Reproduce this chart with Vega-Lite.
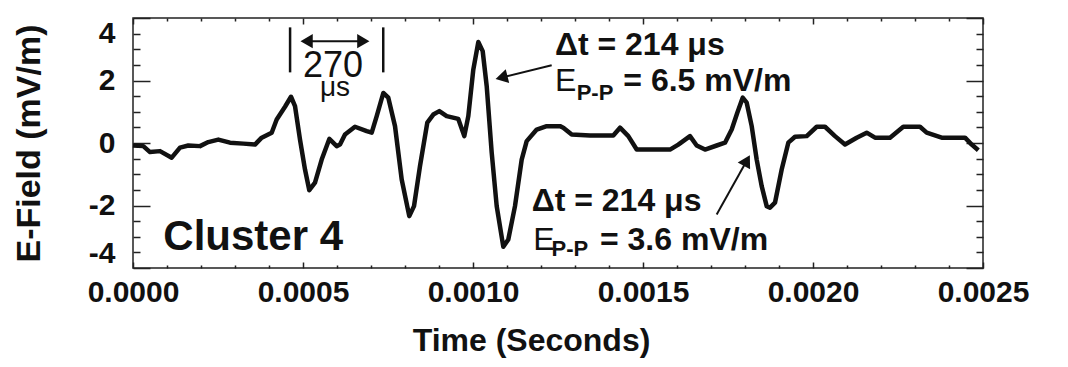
{
  "$schema": "https://vega.github.io/schema/vega-lite/v6.json",
  "width": 850,
  "height": 250,
  "autosize": {"type": "none"},
  "padding": {"left": 133, "top": 18, "right": 85, "bottom": 99},
  "background": "white",
  "config": {
    "view": {"stroke": "#222", "strokeWidth": 1.5},
    "font": "Liberation Sans",
    "text": {"font": "Liberation Sans", "color": "#111"}
  },
  "datasets": {
    "signal": [
      {"t": 0.0, "E": -0.08}, {"t": 0.0000303, "E": -0.10}, {"t": 0.00005, "E": -0.29}, {"t": 0.0000794, "E": -0.26},
      {"t": 0.0001138, "E": -0.47}, {"t": 0.0001382, "E": -0.15}, {"t": 0.0001626, "E": -0.08}, {"t": 0.0001971, "E": -0.10},
      {"t": 0.0002215, "E": 0.03}, {"t": 0.0002509, "E": 0.11}, {"t": 0.0002853, "E": 0.01}, {"t": 0.0003244, "E": -0.02},
      {"t": 0.0003588, "E": -0.05}, {"t": 0.0003785, "E": 0.17}, {"t": 0.0004079, "E": 0.33}, {"t": 0.0004226, "E": 0.75},
      {"t": 0.0004471, "E": 1.16}, {"t": 0.0004647, "E": 1.48}, {"t": 0.0004765, "E": 1.18}, {"t": 0.0004912, "E": 0.11},
      {"t": 0.0005059, "E": -0.85}, {"t": 0.0005185, "E": -1.51}, {"t": 0.0005353, "E": -1.27}, {"t": 0.000555, "E": -0.53},
      {"t": 0.0005774, "E": 0.13}, {"t": 0.0005991, "E": -0.10}, {"t": 0.0006088, "E": -0.05}, {"t": 0.0006235, "E": 0.27},
      {"t": 0.0006529, "E": 0.52}, {"t": 0.0006874, "E": 0.38}, {"t": 0.0007021, "E": 0.33}, {"t": 0.0007168, "E": 0.86},
      {"t": 0.0007362, "E": 1.60}, {"t": 0.0007509, "E": 1.45}, {"t": 0.0007706, "E": 0.54}, {"t": 0.0007903, "E": -1.17},
      {"t": 0.0008126, "E": -2.34}, {"t": 0.0008265, "E": -2.02}, {"t": 0.0008441, "E": -0.74}, {"t": 0.0008656, "E": 0.65},
      {"t": 0.0008832, "E": 0.91}, {"t": 0.0009009, "E": 1.02}, {"t": 0.0009226, "E": 0.86}, {"t": 0.0009568, "E": 0.77},
      {"t": 0.0009744, "E": 0.22}, {"t": 0.0009862, "E": 0.86}, {"t": 0.0010009, "E": 2.35}, {"t": 0.0010156, "E": 3.23},
      {"t": 0.0010285, "E": 2.94}, {"t": 0.0010403, "E": 1.82}, {"t": 0.001055, "E": -0.31}, {"t": 0.0010697, "E": -2.02},
      {"t": 0.0010891, "E": -3.32}, {"t": 0.0011038, "E": -3.09}, {"t": 0.0011235, "E": -2.02}, {"t": 0.0011432, "E": -0.53},
      {"t": 0.0011579, "E": 0.06}, {"t": 0.0011874, "E": 0.43}, {"t": 0.0012168, "E": 0.54}, {"t": 0.0012559, "E": 0.54},
      {"t": 0.0012656, "E": 0.49}, {"t": 0.0012903, "E": 0.27}, {"t": 0.0013441, "E": 0.24}, {"t": 0.0014126, "E": 0.24},
      {"t": 0.0014324, "E": 0.49}, {"t": 0.0014568, "E": 0.22}, {"t": 0.0014815, "E": -0.21}, {"t": 0.0015206, "E": -0.21},
      {"t": 0.0015794, "E": -0.21}, {"t": 0.0016038, "E": -0.05}, {"t": 0.0016382, "E": 0.22}, {"t": 0.0016579, "E": -0.08},
      {"t": 0.0016824, "E": -0.21}, {"t": 0.0017168, "E": -0.08}, {"t": 0.0017412, "E": 0.01}, {"t": 0.0017609, "E": 0.43},
      {"t": 0.0017774, "E": 0.97}, {"t": 0.0017932, "E": 1.45}, {"t": 0.001805, "E": 1.29}, {"t": 0.0018197, "E": 0.54},
      {"t": 0.0018344, "E": -0.53}, {"t": 0.0018491, "E": -1.38}, {"t": 0.0018638, "E": -2.02}, {"t": 0.0018735, "E": -2.07},
      {"t": 0.0018882, "E": -1.91}, {"t": 0.0019079, "E": -0.85}, {"t": 0.0019274, "E": 0.01}, {"t": 0.0019471, "E": 0.20},
      {"t": 0.0019815, "E": 0.22}, {"t": 0.0020109, "E": 0.52}, {"t": 0.0020353, "E": 0.52}, {"t": 0.0020647, "E": 0.22},
      {"t": 0.0020941, "E": -0.05}, {"t": 0.0021285, "E": 0.17}, {"t": 0.0021579, "E": 0.33}, {"t": 0.0021824, "E": 0.17},
      {"t": 0.0022265, "E": 0.17}, {"t": 0.0022656, "E": 0.52}, {"t": 0.0023147, "E": 0.52}, {"t": 0.0023344, "E": 0.33},
      {"t": 0.0023785, "E": 0.17}, {"t": 0.0024471, "E": 0.17}, {"t": 0.0024668, "E": -0.05}, {"t": 0.0024862, "E": -0.23}
    ],
    "bars": [
      {"t": 0.000462, "E": 2.26, "t2": 0.000462, "E2": 3.70},
      {"t": 0.000736, "E": 2.26, "t2": 0.000736, "E2": 3.70}
    ],
    "shafts": [
      {"t": 0.0005167, "E": 3.258, "t2": 0.0006714, "E2": 3.258},
      {"t": 0.0012314, "E": 2.49, "t2": 0.0010897, "E2": 2.109},
      {"t": 0.0017167, "E": -2.288, "t2": 0.0018026, "E2": -0.618}
    ],
    "headLeft": [{"t": 0.0005167, "E": 3.258}],
    "headRight": [{"t": 0.0006714, "E": 3.258}],
    "head1": [{"t": 0.0010897, "E": 2.109}],
    "head2": [{"t": 0.0018026, "E": -0.618}],
    "boldText": [
      {"t": 0.001241, "E": 2.832, "label": "Δt = 214 μs"},
      {"t": 0.0014421, "E": 1.658, "label": "= 6.5 mV/m"},
      {"t": 0.0011726, "E": -2.182, "label": "Δt = 214 μs"},
      {"t": 0.0013735, "E": -3.408, "label": "= 3.6 mV/m"}
    ],
    "plainText": [
      {"t": 0.001241, "E": 1.658, "label": "E"},
      {"t": 0.0011773, "E": -3.408, "label": "E"}
    ],
    "subText": [
      {"t": 0.001305, "E": 1.392, "label": "P-P"},
      {"t": 0.0012312, "E": -3.62, "label": "P-P"}
    ],
    "intervalText": [{"t": 0.0005882, "E": 2.128, "label": "270"}],
    "unitText": [{"t": 0.000594, "E": 1.498, "label": "μs"}],
    "cluster": [{"t": 0.0000891, "E": -3.41, "label": "Cluster 4"}]
  },
  "layer": [
    {
      "encoding": {
        "x": {
          "field": "t", "type": "quantitative",
          "scale": {"domain": [0, 0.0025], "nice": false, "zero": false},
          "axis": {
            "orient": "bottom", "offset": -6,
            "values": [0, 0.0001, 0.0002, 0.0003, 0.0004, 0.0005, 0.0006, 0.0007, 0.0008, 0.0009, 0.001, 0.0011, 0.0012, 0.0013, 0.0014, 0.0015, 0.0016, 0.0017, 0.0018, 0.0019, 0.002, 0.0021, 0.0022, 0.0023, 0.0024, 0.0025],
            "domain": false, "grid": false, "ticks": true,
            "tickColor": "#222", "tickWidth": 1.5, "tickOpacity": 1,
            "tickSize": 6,
            "tickDash": {"condition": {"test": "abs(datum.value*2000-round(datum.value*2000))<0.01", "value": [6, 0]}, "value": [0, 3, 3]},
            "labelExpr": "abs(datum.value*2000-round(datum.value*2000))<0.01 ? format(datum.value,'.4f') : ''",
            "labelFont": "Liberation Sans", "labelFontSize": 30, "labelFontWeight": "bold", "labelColor": "#111",
            "labelPadding": 9, "labelOverlap": false, "labelBound": false, "labelFlush": false,
            "title": "Time (Seconds)", "titleFont": "Liberation Sans", "titleFontSize": 32, "titleFontWeight": "bold",
            "titleColor": "#111", "titlePadding": 18, "titleX": 398
          }
        },
        "y": {
          "field": "E", "type": "quantitative",
          "scale": {"domain": [-4, 4], "nice": false, "zero": false},
          "axis": {
            "orient": "left", "offset": -17,
            "values": [-4, -3.5, -3, -2.5, -2, -1.5, -1, -0.5, 0, 0.5, 1, 1.5, 2, 2.5, 3, 3.5, 4],
            "domain": false, "grid": false, "ticks": true,
            "tickColor": "#222", "tickWidth": 1.5, "tickOpacity": 1,
            "tickSize": 17,
            "tickDash": {"condition": {"test": "abs(datum.value/2-round(datum.value/2))<0.01", "value": [17, 0]}, "value": [0, 10, 7]},
            "labelExpr": "abs(datum.value/2-round(datum.value/2))<0.01 ? ('' + datum.value) : ''",
            "labelFont": "Liberation Sans", "labelFontSize": 30, "labelFontWeight": "bold", "labelColor": "#111",
            "labelPadding": 18, "labelOverlap": false, "labelFlush": true, "labelBound": false,
            "title": "E-Field (mV/m)", "titleFont": "Liberation Sans", "titleFontSize": 34, "titleFontWeight": "bold",
            "titleColor": "#111", "titlePadding": 42
          }
        }
      },
      "layer": [
        {"data": {"name": "bars"}, "mark": {"type": "rule", "color": "#111", "strokeWidth": 2.5},
         "encoding": {"x2": {"field": "t2"}, "y2": {"field": "E2"}}},
        {"data": {"name": "shafts"}, "mark": {"type": "rule", "color": "#111", "strokeWidth": 2},
         "encoding": {"x2": {"field": "t2"}, "y2": {"field": "E2"}}},
        {"data": {"name": "headLeft"}, "mark": {"type": "point", "shape": "triangle", "angle": 270, "size": 200, "filled": true, "color": "#111", "opacity": 1}},
        {"data": {"name": "headRight"}, "mark": {"type": "point", "shape": "triangle", "angle": 90, "size": 200, "filled": true, "color": "#111", "opacity": 1}},
        {"data": {"name": "head1"}, "mark": {"type": "point", "shape": "triangle", "angle": 256, "size": 200, "filled": true, "color": "#111", "opacity": 1}},
        {"data": {"name": "head2"}, "mark": {"type": "point", "shape": "triangle", "angle": 29, "size": 200, "filled": true, "color": "#111", "opacity": 1}},
        {"data": {"name": "boldText"}, "mark": {"type": "text", "align": "left", "baseline": "alphabetic", "fontSize": 32, "fontWeight": "bold", "color": "#111"},
         "encoding": {"text": {"field": "label"}}},
        {"data": {"name": "plainText"}, "mark": {"type": "text", "align": "left", "baseline": "alphabetic", "fontSize": 32, "color": "#111"},
         "encoding": {"text": {"field": "label"}}},
        {"data": {"name": "subText"}, "mark": {"type": "text", "align": "left", "baseline": "alphabetic", "fontSize": 22, "fontWeight": "bold", "color": "#111"},
         "encoding": {"text": {"field": "label"}}},
        {"data": {"name": "intervalText"}, "mark": {"type": "text", "align": "center", "baseline": "alphabetic", "fontSize": 36, "color": "#111"},
         "encoding": {"text": {"field": "label"}}},
        {"data": {"name": "unitText"}, "mark": {"type": "text", "align": "center", "baseline": "alphabetic", "fontSize": 28, "color": "#111"},
         "encoding": {"text": {"field": "label"}}},
        {"data": {"name": "cluster"}, "mark": {"type": "text", "align": "left", "baseline": "alphabetic", "fontSize": 42, "fontWeight": "bold", "color": "#111"},
         "encoding": {"text": {"field": "label"}}}
      ]
    },
    {
      "data": {"name": "signal"},
      "mark": {"type": "line", "color": "#111", "strokeWidth": 4.5, "strokeJoin": "round"},
      "encoding": {
        "x": {
          "field": "t", "type": "quantitative",
          "scale": {"domain": [0, 0.0025], "nice": false, "zero": false},
          "axis": {
            "orient": "top", "offset": -6,
            "values": [0, 0.0001, 0.0002, 0.0003, 0.0004, 0.0005, 0.0006, 0.0007, 0.0008, 0.0009, 0.001, 0.0011, 0.0012, 0.0013, 0.0014, 0.0015, 0.0016, 0.0017, 0.0018, 0.0019, 0.002, 0.0021, 0.0022, 0.0023, 0.0024, 0.0025],
            "domain": false, "grid": false, "labels": false, "title": null, "ticks": true,
            "tickColor": "#222", "tickWidth": 1.5, "tickOpacity": 1,
            "tickSize": 6,
            "tickDash": {"condition": {"test": "abs(datum.value*2000-round(datum.value*2000))<0.01", "value": [6, 0]}, "value": [0, 3, 3]}
          }
        },
        "y": {
          "field": "E", "type": "quantitative",
          "scale": {"domain": [-4, 4], "nice": false, "zero": false},
          "axis": {
            "orient": "right", "offset": -17,
            "values": [-4, -3.5, -3, -2.5, -2, -1.5, -1, -0.5, 0, 0.5, 1, 1.5, 2, 2.5, 3, 3.5, 4],
            "domain": false, "grid": false, "labels": false, "title": null, "ticks": true,
            "tickColor": "#222", "tickWidth": 1.5, "tickOpacity": 1,
            "tickSize": 17,
            "tickDash": {"condition": {"test": "abs(datum.value/2-round(datum.value/2))<0.01", "value": [17, 0]}, "value": [0, 10, 7]}
          }
        }
      }
    }
  ],
  "resolve": {"axis": {"x": "independent", "y": "independent"}}
}
